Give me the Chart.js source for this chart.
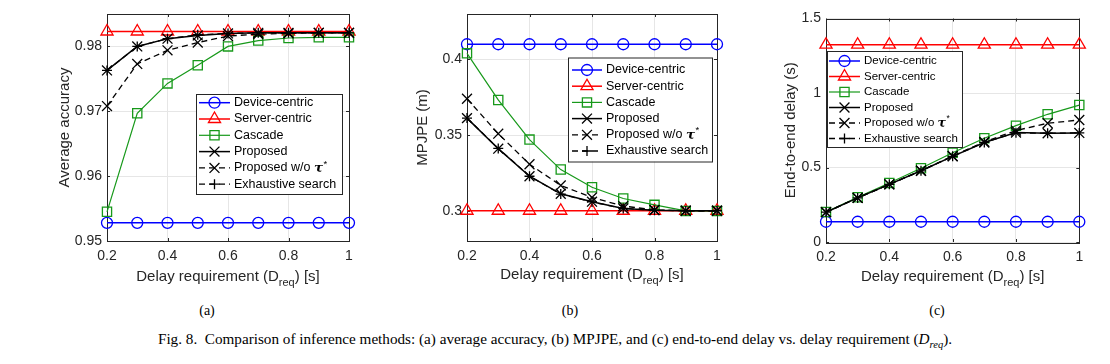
<!DOCTYPE html>
<html>
<head>
<meta charset="utf-8">
<script src="https://cdn.jsdelivr.net/npm/chart.js@4.4.0/dist/chart.umd.min.js"></script>
<style>
  body { margin: 0; background: #fff; width: 1110px; height: 364px; position: relative; overflow: hidden; }
  canvas { position: absolute; top: 0; }
  .tag { position: absolute; font-family: "Liberation Serif", "Times New Roman", serif; font-size: 14px; color: #000; transform: translate(-50%, -50%); }
  #caption { position: absolute; left: 0; width: 1110px; top: 330px; text-align: center;
             font-family: "Liberation Serif", "Times New Roman", serif; font-size: 15.2px; color: #000; white-space: nowrap; }
  #caption sub { font-size: 10.5px; }
</style>
</head>
<body>
<canvas id="chartA" width="370" height="300" style="left:0px"></canvas>
<canvas id="chartB" width="370" height="300" style="left:370px"></canvas>
<canvas id="chartC" width="370" height="300" style="left:740px"></canvas>
<div class="tag" style="left:207px; top:311px">(a)</div>
<div class="tag" style="left:570px; top:311px">(b)</div>
<div class="tag" style="left:937px; top:311px">(c)</div>
<div id="caption">Fig. 8.&nbsp; Comparison of inference methods: (a) average accuracy, (b) MPJPE, and (c) end-to-end delay vs. delay requirement (<i>D<sub>req</sub></i>).</div>

<script>
// ---- data ----
const delayReq = [0.2, 0.3, 0.4, 0.5, 0.6, 0.7, 0.8, 0.9, 1.0];
const seriesNames = ["Device-centric", "Server-centric", "Cascade", "Proposed", "Proposed w/o τ*", "Exhaustive search"];
const xTicks = [0.2, 0.4, 0.6, 0.8, 1];
const xTitleParts = ["Delay requirement (D", "req", ") [s]"];

// (a) average accuracy
const accDevice     = [0.9528, 0.9528, 0.9528, 0.9528, 0.9528, 0.9528, 0.9528, 0.9528, 0.9528];
const accServer     = [0.9823, 0.9823, 0.9823, 0.9823, 0.9823, 0.9823, 0.9823, 0.9823, 0.9823];
const accCascade    = [0.9545, 0.9697, 0.9743, 0.9771, 0.9800, 0.9809, 0.9813, 0.9814, 0.9814];
const accProposed   = [0.9763, 0.9800, 0.9812, 0.9817, 0.9820, 0.9821, 0.9821, 0.9821, 0.9821];
const accNoTau      = [0.9708, 0.9773, 0.9794, 0.9806, 0.9816, 0.9819, 0.9820, 0.9821, 0.9821];
const accExhaustive = [0.9763, 0.9800, 0.9812, 0.9818, 0.9820, 0.9821, 0.9821, 0.9821, 0.9821];
const accTicks = [0.95, 0.96, 0.97, 0.98];

// (b) MPJPE
const mpjpeDevice     = [0.410, 0.410, 0.410, 0.410, 0.410, 0.410, 0.410, 0.410, 0.410];
const mpjpeServer     = [0.300, 0.300, 0.300, 0.300, 0.300, 0.300, 0.300, 0.300, 0.300];
const mpjpeCascade    = [0.4040, 0.3732, 0.3470, 0.3272, 0.3155, 0.3081, 0.3039, 0.2999, 0.2999];
const mpjpeProposed   = [0.3612, 0.3410, 0.3228, 0.3112, 0.3060, 0.3015, 0.3004, 0.3000, 0.3000];
const mpjpeNoTau      = [0.3740, 0.3509, 0.3307, 0.3167, 0.3088, 0.3031, 0.3005, 0.3000, 0.3000];
const mpjpeExhaustive = [0.3612, 0.3412, 0.3228, 0.3110, 0.3058, 0.3015, 0.3003, 0.3000, 0.3000];
const mpjpeTicks = [0.3, 0.35, 0.4];

// (c) end-to-end delay
const e2eDevice     = [0.136, 0.136, 0.136, 0.136, 0.136, 0.136, 0.136, 0.136, 0.136];
const e2eServer     = [1.324, 1.324, 1.324, 1.324, 1.324, 1.324, 1.324, 1.324, 1.324];
const e2eCascade    = [0.201, 0.300, 0.396, 0.495, 0.599, 0.696, 0.781, 0.857, 0.919];
const e2eProposed   = [0.200, 0.296, 0.387, 0.478, 0.575, 0.668, 0.735, 0.730, 0.732];
const e2eNoTau      = [0.200, 0.296, 0.387, 0.478, 0.577, 0.672, 0.748, 0.797, 0.819];
const e2eExhaustive = [0.200, 0.296, 0.387, 0.478, 0.575, 0.668, 0.733, 0.730, 0.732];
const e2eTicks = [0, 0.5, 1, 1.5];

// ---- styles (matlab-ish) ----
const FONT = "'Liberation Sans', Arial, sans-serif";
const TEXT = "#262626";
const styles = [
  { color: "#0000ff", marker: "circle",   radius: 5.5, width: 1.5, dash: [] },
  { color: "#ff0000", marker: "triangle", radius: 7,   width: 1.5, dash: [] },
  { color: "#17991a", marker: "rect",     radius: 6.5, width: 1.2, dash: [] },
  { color: "#000000", marker: "crossRot", radius: 7,   width: 1.5, dash: [] },
  { color: "#000000", marker: "crossRot", radius: 7,   width: 1.3, dash: [6, 4] },
  { color: "#000000", marker: "cross",    radius: 5,   width: 1.3, dash: [6, 4] },
];

const fmt = (v) => String(+v.toFixed(2));

function buildDatasets(series) {
  return series.map((vals, i) => {
    const s = styles[i];
    return {
      label: seriesNames[i],
      data: delayReq.map((x, k) => ({ x, y: vals[k] })),
      borderColor: s.color,
      backgroundColor: "rgba(0,0,0,0)",
      borderWidth: s.width,
      borderDash: s.dash,
      pointStyle: s.marker,
      pointRadius: s.radius,
      pointHoverRadius: s.radius,
      pointBorderWidth: 1.3,
      pointBorderColor: s.color,
      pointBackgroundColor: "rgba(0,0,0,0)",
      tension: 0,
      clip: false,
      order: -i,
    };
  });
}

// frame with inward tick marks, drawn over the grid
function drawFrame(chart) {
  const { ctx, chartArea: a, scales } = chart;
  ctx.save();
  ctx.strokeStyle = TEXT;
  ctx.lineWidth = 1;
  ctx.strokeRect(Math.round(a.left) + 0.5, Math.round(a.top) + 0.5,
                 Math.round(a.right - a.left), Math.round(a.bottom - a.top));
  ctx.beginPath();
  scales.x.ticks.forEach((t) => {
    const x = Math.round(scales.x.getPixelForValue(t.value)) + 0.5;
    ctx.moveTo(x, a.bottom); ctx.lineTo(x, a.bottom - 3);
    ctx.moveTo(x, a.top); ctx.lineTo(x, a.top + 3);
  });
  scales.y.ticks.forEach((t) => {
    const y = Math.round(scales.y.getPixelForValue(t.value)) + 0.5;
    ctx.moveTo(a.left, y); ctx.lineTo(a.left + 3, y);
    ctx.moveTo(a.right, y); ctx.lineTo(a.right - 3, y);
  });
  ctx.stroke();
  ctx.restore();
}

function drawLegend(chart, box) {
  const ctx = chart.ctx;
  ctx.save();
  ctx.fillStyle = "#fff";
  ctx.fillRect(box.x, box.y, box.w, box.h);
  ctx.strokeStyle = TEXT;
  ctx.lineWidth = 1;
  ctx.strokeRect(box.x + 0.5, box.y + 0.5, box.w, box.h);
  chart.data.datasets.forEach((ds, i) => {
    const cy = box.row0 + i * box.rowH;
    ctx.save();
    ctx.strokeStyle = ds.borderColor;
    ctx.lineWidth = ds.borderWidth;
    ctx.setLineDash(ds.borderDash);
    ctx.beginPath();
    ctx.moveTo(box.x0, cy);
    ctx.lineTo(box.x1, cy);
    ctx.stroke();
    ctx.restore();

    ctx.save();
    ctx.strokeStyle = ds.pointBorderColor;
    ctx.fillStyle = "rgba(0,0,0,0)";
    ctx.lineWidth = ds.pointBorderWidth;
    Chart.helpers.drawPoint(ctx, {
      pointStyle: ds.pointStyle, radius: ds.pointRadius, rotation: 0, borderWidth: ds.pointBorderWidth,
    }, (box.x0 + box.x1) / 2, cy);
    ctx.restore();

    ctx.fillStyle = "#000";
    ctx.textBaseline = "middle";
    ctx.textAlign = "left";
    ctx.font = `${box.size}px ${FONT}`;
    const parts = ds.label.split("τ");
    ctx.fillText(parts[0], box.tx, cy);
    if (parts.length > 1) {
      let x = box.tx + ctx.measureText(parts[0]).width;
      ctx.font = `italic bold ${box.size + 1}px 'DejaVu Serif', serif`;
      ctx.fillText("τ", x, cy + 1);
      x += ctx.measureText("τ").width + 0.5;
      ctx.font = `${box.size - 3}px ${FONT}`;
      ctx.fillText(parts[1], x, cy - 4);
    }
  });
  ctx.restore();
}

function drawTitles(chart, t) {
  const { ctx, chartArea: a } = chart;
  ctx.save();
  ctx.fillStyle = TEXT;
  ctx.textBaseline = "alphabetic";
  ctx.textAlign = "left";
  const mainFont = `15px ${FONT}`;
  const subFont = `11px ${FONT}`;
  ctx.font = mainFont;
  const w1 = ctx.measureText(xTitleParts[0]).width;
  const w3 = ctx.measureText(xTitleParts[2]).width;
  ctx.font = subFont;
  const w2 = ctx.measureText(xTitleParts[1]).width;
  let x = (a.left + a.right) / 2 - (w1 + w2 + w3) / 2;
  ctx.font = mainFont;
  ctx.fillText(xTitleParts[0], x, t.xBase);
  x += w1;
  ctx.font = subFont;
  ctx.fillText(xTitleParts[1], x, t.xBase + 5);
  x += w2;
  ctx.font = mainFont;
  ctx.fillText(xTitleParts[2], x, t.xBase);

  ctx.translate(t.yBase, (a.top + a.bottom) / 2);
  ctx.rotate(-Math.PI / 2);
  ctx.textAlign = "center";
  ctx.fillText(t.yTitle, 0, 0);
  ctx.restore();
}

function makeChart(id, cfg) {
  const axisTicks = (vals) => (scale) => { scale.ticks = vals.map((v) => ({ value: v })); };
  const tickFont = { family: FONT, size: 14 };
  return new Chart(document.getElementById(id), {
    type: "line",
    data: { datasets: buildDatasets(cfg.series) },
    options: {
      responsive: false,
      animation: false,
      devicePixelRatio: 1,
      events: [],
      layout: { padding: { left: 0, top: cfg.top, right: cfg.right, bottom: 0 } },
      plugins: { legend: { display: false }, tooltip: { enabled: false } },
      scales: {
        x: {
          type: "linear", min: 0.2, max: 1,
          afterBuildTicks: axisTicks(xTicks),
          afterFit: (s) => { s.height = cfg.xAxisH; },
          grid: { color: "#e6e6e6", drawTicks: false },
          border: { display: false },
          ticks: { padding: 7, color: TEXT, font: tickFont, callback: fmt, maxRotation: 0, autoSkip: false },
        },
        y: {
          type: "linear", min: cfg.yMin, max: cfg.yMax,
          afterBuildTicks: axisTicks(cfg.yTicks),
          afterFit: (s) => { s.width = cfg.yAxisW; },
          grid: { color: "#e6e6e6", drawTicks: false },
          border: { display: false },
          ticks: { padding: 5, color: TEXT, font: tickFont, callback: fmt, autoSkip: false },
        },
      },
    },
    plugins: [{
      id: "matlabLook",
      beforeDatasetsDraw: (chart) => drawFrame(chart),
      afterDatasetsDraw: (chart) => drawLegend(chart, cfg.legend),
      afterDraw: (chart) => drawTitles(chart, cfg.titles),
    }],
  });
}

makeChart("chartA", {
  series: [accDevice, accServer, accCascade, accProposed, accNoTau, accExhaustive],
  yMin: 0.95, yMax: 0.985, yTicks: accTicks,
  top: 14, right: 21, yAxisW: 107, xAxisH: 59,
  titles: { yTitle: "Average accuracy", yBase: 69, xBase: 281 },
  legend: { x: 196, y: 94, w: 146, h: 100, row0: 102.7, rowH: 16.3, x0: 199, x1: 230, tx: 234, size: 12.5 },
});

makeChart("chartB", {
  series: [mpjpeDevice, mpjpeServer, mpjpeCascade, mpjpeProposed, mpjpeNoTau, mpjpeExhaustive],
  yMin: 0.28, yMax: 0.43, yTicks: mpjpeTicks,
  top: 14, right: 23, yAxisW: 97, xAxisH: 59,
  titles: { yTitle: "MPJPE (m)", yBase: 57, xBase: 279 },
  legend: { x: 198, y: 57.5, w: 144, h: 104, row0: 70, rowH: 16.2, x0: 202, x1: 232, tx: 236, size: 12.5 },
});

makeChart("chartC", {
  series: [e2eDevice, e2eServer, e2eCascade, e2eProposed, e2eNoTau, e2eExhaustive],
  yMin: 0, yMax: 1.5, yTicks: e2eTicks,
  top: 18.5, right: 30.7, yAxisW: 86, xAxisH: 58,
  titles: { yTitle: "End-to-end delay (s)", yBase: 55, xBase: 281 },
  legend: { x: 87, y: 51, w: 135, h: 96, row0: 61, rowH: 15.5, x0: 89, x1: 120, tx: 124, size: 11.5 },
});
</script>
</body>
</html>
